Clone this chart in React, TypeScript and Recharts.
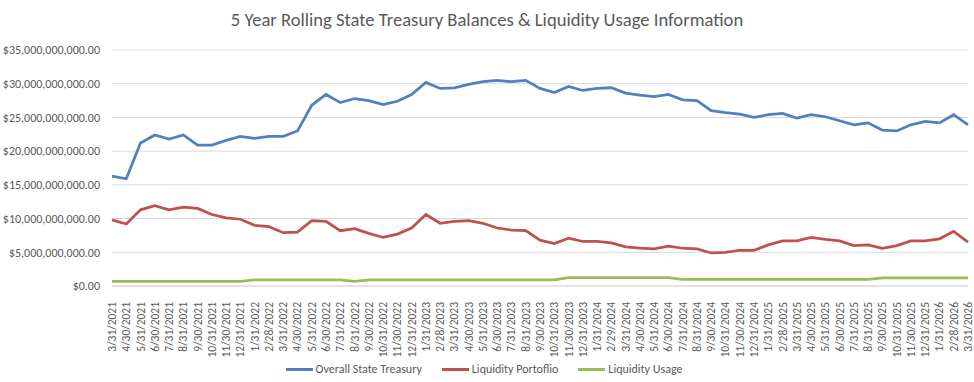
import { LineChart, Line, XAxis, YAxis, CartesianGrid, Legend } from 'recharts';

const months = [
  '3/31/2021', '4/30/2021', '5/31/2021', '6/30/2021', '7/31/2021', '8/31/2021', '9/30/2021', '10/31/2021',
  '11/30/2021', '12/31/2021', '1/31/2022', '2/28/2022', '3/31/2022', '4/30/2022', '5/31/2022', '6/30/2022',
  '7/31/2022', '8/31/2022', '9/30/2022', '10/31/2022', '11/30/2022', '12/31/2022', '1/31/2023', '2/28/2023',
  '3/31/2023', '4/30/2023', '5/31/2023', '6/30/2023', '7/31/2023', '8/31/2023', '9/30/2023', '10/31/2023',
  '11/30/2023', '12/31/2023', '1/31/2024', '2/29/2024', '3/31/2024', '4/30/2024', '5/31/2024', '6/30/2024',
  '7/31/2024', '8/31/2024', '9/30/2024', '10/31/2024', '11/30/2024', '12/31/2024', '1/31/2025', '2/28/2025',
  '3/31/2025', '4/30/2025', '5/31/2025', '6/30/2025', '7/31/2025', '8/31/2025', '9/30/2025', '10/31/2025',
  '11/30/2025', '12/31/2025', '1/31/2026', '2/28/2026', '3/31/2026',
];

// values in billions of dollars
const treasury = [
  16.3, 15.9, 21.2, 22.4, 21.8, 22.4, 20.9, 20.9, 21.6, 22.2, 21.9, 22.2, 22.2, 23.0, 26.8, 28.4,
  27.2, 27.8, 27.5, 26.9, 27.4, 28.4, 30.2, 29.3, 29.4, 29.9, 30.3, 30.5, 30.3, 30.5, 29.3, 28.7,
  29.6, 29.0, 29.3, 29.4, 28.6, 28.3, 28.1, 28.4, 27.6, 27.5, 26.0, 25.7, 25.5, 25.0, 25.4, 25.6,
  24.9, 25.4, 25.1, 24.5, 23.9, 24.2, 23.1, 23.0, 23.9, 24.4, 24.2, 25.4, 23.9,
];

const portfolio = [
  9.8, 9.2, 11.3, 11.9, 11.3, 11.7, 11.5, 10.6, 10.1, 9.9, 9.0, 8.8, 7.9, 8.0, 9.7, 9.6,
  8.2, 8.5, 7.8, 7.2, 7.7, 8.6, 10.6, 9.3, 9.6, 9.7, 9.3, 8.6, 8.3, 8.2, 6.8, 6.3,
  7.1, 6.6, 6.6, 6.4, 5.8, 5.6, 5.5, 5.9, 5.6, 5.5, 4.9, 5.0, 5.3, 5.3, 6.1, 6.7,
  6.7, 7.2, 6.9, 6.7, 6.0, 6.1, 5.6, 6.0, 6.7, 6.7, 7.0, 8.1, 6.5,
];

const usage = [
  0.7, 0.7, 0.7, 0.7, 0.7, 0.7, 0.7, 0.7, 0.7, 0.7, 0.9, 0.9, 0.9, 0.9, 0.9, 0.9,
  0.9, 0.7, 0.9, 0.9, 0.9, 0.9, 0.9, 0.9, 0.9, 0.9, 0.9, 0.9, 0.9, 0.9, 0.9, 0.9,
  1.25, 1.25, 1.25, 1.25, 1.25, 1.25, 1.25, 1.25, 1.0, 1.0, 1.0, 1.0, 1.0, 1.0, 1.0, 1.0,
  1.0, 1.0, 1.0, 1.0, 1.0, 1.0, 1.2, 1.2, 1.2, 1.2, 1.2, 1.2, 1.2,
];

const yTicks = [0, 5e9, 10e9, 15e9, 20e9, 25e9, 30e9, 35e9];

const seriesNames = ['Overall State Treasury', 'Liquidity Portoflio', 'Liquidity Usage'];
const seriesColors = ['#4f81bd', '#c0504d', '#9bbb59'];

const data = months.map((m, i) => ({
  month: m,
  treasury: treasury[i] * 1e9,
  portfolio: portfolio[i] * 1e9,
  usage: usage[i] * 1e9,
}));

const FONT = "Carlito, Calibri, 'Liberation Sans', sans-serif";
const TEXT = '#595959';

const fmtMoney = (v: number) =>
  '$' + v.toLocaleString('en-US', { minimumFractionDigits: 2, maximumFractionDigits: 2 });

function MonthTick(props: any) {
  const { x, y, payload } = props;
  return (
    <text
      x={0}
      y={0}
      transform={`translate(${x + 4},${y + 8}) rotate(-90)`}
      textAnchor="end"
      fill={TEXT}
      fontSize={11.5}
      fontFamily={FONT}
    >
      {payload.value}
    </text>
  );
}

function LegendRow() {
  return (
    <div style={{ display: 'flex', justifyContent: 'center', gap: 20, fontFamily: FONT, fontSize: 12, color: TEXT }}>
      {seriesNames.map((name, i) => (
        <div key={name} style={{ display: 'flex', alignItems: 'center' }}>
          <span style={{ display: 'inline-block', width: 27, height: 3, background: seriesColors[i], marginRight: 3 }} />
          <span>{name}</span>
        </div>
      ))}
    </div>
  );
}

export default function App() {
  return (
    <div style={{ position: 'absolute', left: 0, top: 0, width: 974, height: 382, background: '#fff' }}>
      <div
        style={{
          position: 'absolute',
          top: 8,
          width: 974,
          textAlign: 'center',
          fontFamily: FONT,
          fontSize: 18.6,
          color: TEXT,
        }}
      >
        5 Year Rolling State Treasury Balances &amp; Liquidity Usage Information
      </div>
      <LineChart width={974} height={382} data={data} margin={{ top: 50, right: 6, bottom: 6, left: 0 }}>
        <CartesianGrid vertical={false} stroke="#d9d9d9" />
        <XAxis
          dataKey="month"
          interval={0}
          height={76}
          tick={<MonthTick />}
          tickLine={false}
          axisLine={{ stroke: '#d9d9d9' }}
        />
        <YAxis
          width={112}
          domain={[0, 35e9]}
          ticks={yTicks}
          tickFormatter={fmtMoney}
          tickLine={false}
          axisLine={false}
          tickSize={0}
          tickMargin={12}
          tick={{ fill: TEXT, fontSize: 12, fontFamily: FONT }}
        />
        <Legend verticalAlign="bottom" content={<LegendRow />} />
        <Line
          type="linear"
          dataKey="treasury"
          name={seriesNames[0]}
          stroke={seriesColors[0]}
          strokeWidth={2.75}
          dot={false}
          isAnimationActive={false}
        />
        <Line
          type="linear"
          dataKey="portfolio"
          name={seriesNames[1]}
          stroke={seriesColors[1]}
          strokeWidth={2.75}
          dot={false}
          isAnimationActive={false}
        />
        <Line
          type="linear"
          dataKey="usage"
          name={seriesNames[2]}
          stroke={seriesColors[2]}
          strokeWidth={2.75}
          dot={false}
          isAnimationActive={false}
        />
      </LineChart>
    </div>
  );
}
